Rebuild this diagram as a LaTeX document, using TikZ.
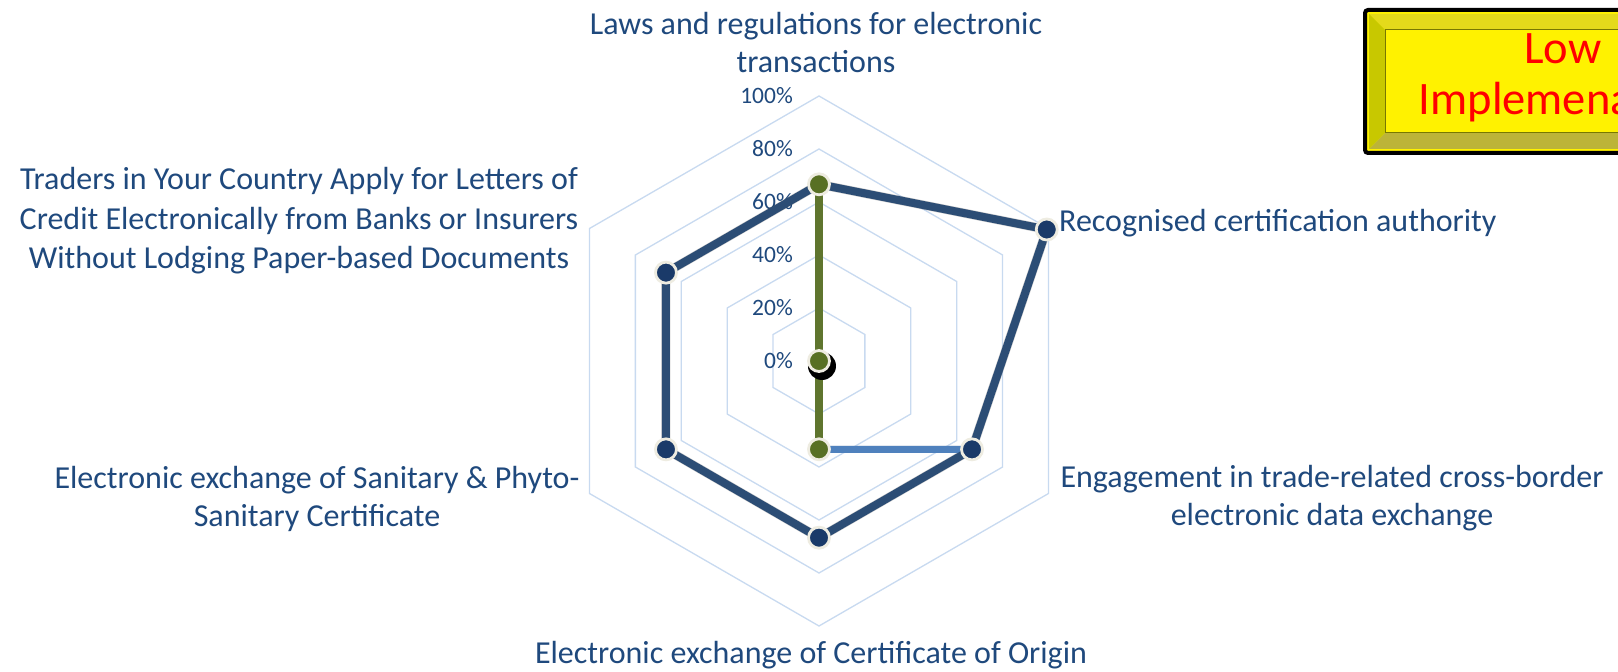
\documentclass[tikz,border=0pt]{standalone}
\usepackage{fontspec}
\setmainfont{Carlito}
\usetikzlibrary{calc}
\definecolor{txtblue}{RGB}{31,73,125}
\definecolor{gridblue}{RGB}{200,218,240}
\definecolor{serblue}{RGB}{44,77,117}
\definecolor{dotblue}{RGB}{26,58,105}
\definecolor{sergreen}{RGB}{95,117,46}
\definecolor{dotgreen}{RGB}{88,112,36}
\definecolor{serlight}{RGB}{79,129,189}
\definecolor{cream}{RGB}{238,236,225}
\definecolor{bevel}{RGB}{200,200,0}

\tikzset{
  grid/.style={draw=gridblue, line width=1.3pt},
  series/.style={line width=8pt, line join=round, line cap=round},
  drop/.style={line width=9pt, draw=black, opacity=0.2, line join=round},
  dot/.style={circle, draw=cream, line width=2.8pt, inner sep=0pt, minimum size=21pt},
  axislabel/.style={text=txtblue, font=\fontsize{32}{38}\selectfont, align=center, inner sep=0pt},
  pct/.style={text=txtblue, font=\fontsize{23.5}{27}\selectfont, anchor=east, inner sep=0pt}
}

\begin{document}
\begin{tikzpicture}[x=1pt,y=1pt]
\clip (-819,-311) rectangle (799,361);
\fill[white] (-819,-311) rectangle (799,361);

% grid
\foreach \r in {53,106,159,212,265}
  \draw[grid] (90:\r) -- (30:\r) -- (-30:\r) -- (-90:\r) -- (-150:\r) -- (150:\r) -- cycle;
\foreach \r/\v in {0/0,53/20,106/40,159/60,212/80,265/100}
  \node[pct] (pct\v) at (-26,\r) {\v\%};

% data points
\coordinate (laws) at (90:176.7);
\coordinate (cert) at (30:263);
\coordinate (engage) at (-30:176.7);
\coordinate (origin) at (-90:176.7);
\coordinate (sps) at (-150:176.7);
\coordinate (lc) at (150:176.7);
\coordinate (gmid) at (0,0);
\coordinate (glow) at (-90:88.3);

% shadows
\draw[drop, xshift=3, yshift=-4] (laws) -- (cert) -- (engage) -- (origin) -- (sps) -- (lc) -- cycle;
\draw[drop, line width=7pt, xshift=3, yshift=-4] (glow) -- (engage);

% light series
\draw[series, serlight, line width=7pt, line cap=butt] (glow) -- (engage);
% blue series
\draw[series, serblue] (laws) -- (cert) -- (engage) -- (origin) -- (sps) -- (lc) -- cycle;
% green series
\draw[line width=6pt, black, opacity=0.55, xshift=3.5] (laws) -- (glow);
\draw[series, sergreen] (laws) -- (gmid) -- (glow);

% markers
\foreach \p in {cert,engage,origin,sps,lc}
  \node[dot, fill=dotblue] (m\p) at (\p) {};
\fill[black] ($(gmid)+(3,-5)$) circle (14);
\foreach \p in {laws,gmid,glow}
  \node[dot, fill=dotgreen] (m\p) at (\p) {};

% axis labels
\node[axislabel] (lblaws) at (-3,318) {Laws and regulations for electronic\\transactions};
\node[axislabel, anchor=west] (lbcert) at (240,138) {Recognised certification authority};
\node[axislabel] (lbengage) at (513,-137.5) {Engagement in trade-related cross-border\\electronic data exchange};
\node[axislabel] (lborigin) at (-8,-294) {Electronic exchange of Certificate of Origin};
\node[axislabel] (lbsps) at (-502,-137.5) {Electronic exchange of Sanitary \& Phyto-\\Sanitary Certificate};
\node[axislabel, font=\fontsize{32}{39.5}\selectfont] (lblc) at (-520,140) {Traders in Your Country Apply for Letters of\\Credit Electronically from Banks or Insurers\\Without Lodging Paper-based Documents};

% status box
\draw[line width=4pt, rounded corners=3pt, fill=yellow] (546,351) rectangle (960,208);
\fill[yellow!88!black] (550,347) -- (566,331) -- (960,331) -- (960,347) -- cycle;
\fill[bevel] (550,347) -- (566,331) -- (566,228) -- (550,212) -- cycle;
\fill[yellow!70!black] (550,212) -- (566,228) -- (960,228) -- (960,212) -- cycle;
\draw[line width=1pt, black!40!bevel, fill=yellow] (566,331) rectangle (960,228);
\node[text=red, font=\fontsize{46.5}{51}\selectfont, align=center, inner sep=0pt] (status) at (744,283) {Low\\Implemenation};
\end{tikzpicture}
\end{document}
